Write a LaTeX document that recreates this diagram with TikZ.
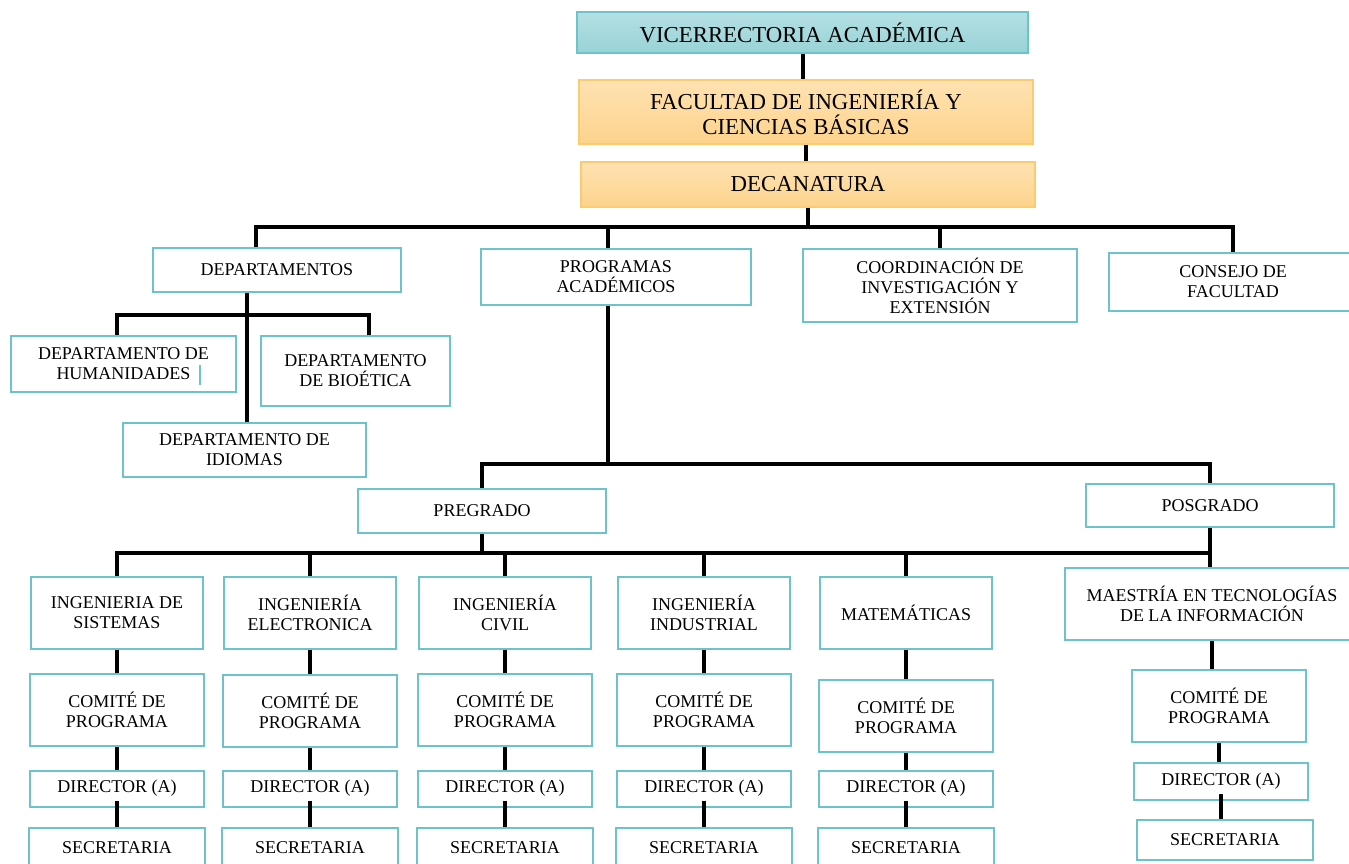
\documentclass[tikz,border=0pt]{standalone}
\usepackage{fontspec}
\setmainfont{Liberation Serif}

\definecolor{bordeazul}{HTML}{6CC4CA}
\definecolor{azularriba}{HTML}{B4E0E3}
\definecolor{azulabajo}{HTML}{98D3D7}
\definecolor{bordenaranja}{HTML}{FBCB6E}
\definecolor{naranjaarriba}{HTML}{FEE2B2}
\definecolor{naranjaabajo}{HTML}{FDD38C}

\begin{document}
\begin{tikzpicture}[
  x=1pt, y=-1pt,
  every node/.style={align=center, inner sep=0pt},
  caja/.style={draw=bordeazul, line width=2pt, fill=white,
               font=\fontsize{18}{20}\selectfont},
  sz/.style 2 args={minimum width=#1, minimum height=#2},
  titulo/.style={line width=1.5pt, font=\fontsize{22.8}{25}\selectfont},
  vicebox/.style={titulo, draw=bordeazul, top color=azularriba, bottom color=azulabajo},
  naranja/.style={titulo, draw=bordenaranja, top color=naranjaarriba, bottom color=naranjaabajo},
  conn/.style={line width=4pt}
]
\useasboundingbox (0,0) rectangle (1349,863);

\node[vicebox, sz={451}{41}] (vic) at (802.5,32.5) {VICERRECTORIA ACADÉMICA};
\node[naranja, sz={454}{64}] (fac) at (806,112) {FACULTAD DE INGENIERÍA Y\\CIENCIAS BÁSICAS};
\node[naranja, sz={454}{45}] (dec) at (808,184.5) {DECANATURA};

\node[caja, sz={248}{44}] (dep) at (277,270) {DEPARTAMENTOS};
\node[caja, sz={270}{56}] (prog) at (616,277) {PROGRAMAS\\ACADÉMICOS};
\node[caja, sz={274}{73}] (coord) at (940,285.5) {COORDINACIÓN DE\\INVESTIGACIÓN Y\\EXTENSIÓN};
\node[caja, sz={248}{58}] (cons) at (1233,282) {CONSEJO DE\\FACULTAD};

\node[caja, sz={225}{56}] (hum) at (123.5,364) {DEPARTAMENTO DE\\HUMANIDADES};
\node[caja, sz={189}{70}] (bio) at (355.5,371) {DEPARTAMENTO\\DE BIOÉTICA};
\node[caja, sz={243}{54}] (idi) at (244.5,450) {DEPARTAMENTO DE\\IDIOMAS};
\draw[bordeazul, line width=1.5pt] (200,365) -- (200,385);

\node[caja, sz={248}{44}] (pre) at (482,511) {PREGRADO};
\node[caja, sz={248}{43}] (pos) at (1210,505.5) {POSGRADO};

\foreach \i/\x/\yc/\t in {1/117/710/{INGENIERIA DE\\SISTEMAS},
                          2/310/711/{INGENIERÍA\\ELECTRONICA},
                          3/505/710/{INGENIERÍA\\CIVIL},
                          4/704/710/{INGENIERÍA\\INDUSTRIAL},
                          5/906/716/{MATEMÁTICAS}} {
  \node[caja, sz={172}{72}] (s\i) at (\x,613) {\t};
  \node[caja, sz={174}{72}] (c\i) at (\x,\yc) {COMITÉ DE\\PROGRAMA};
  \node[caja, sz={174}{36}] (d\i) at (\x,788.5) {DIRECTOR (A)};
  \node[caja, sz={176}{40}] (r\i) at (\x,848) {SECRETARIA};
}
\node[caja, sz={294}{72}] (s6) at (1212,604) {MAESTRÍA EN TECNOLOGÍAS\\DE LA INFORMACIÓN};
\node[caja, sz={174}{72}] (c6) at (1219,706) {COMITÉ DE\\PROGRAMA};
\node[caja, sz={174}{37}] (d6) at (1221,781.5) {DIRECTOR (A)};
\node[caja, sz={176}{40}] (r6) at (1225,840) {SECRETARIA};

\draw[conn] (vic) -- (vic |- fac.north);
\draw[conn] (fac) -- (fac |- dec.north);
\foreach \n/\dx in {dep/-21, prog/-8, coord/0, cons/0}
  \draw[conn] (dec.south) -- ++(0,19) -| ([xshift=\dx]\n.north);

\draw[conn] ([xshift=-30]dep.south) -- ([xshift=-30]dep.south |- idi.north);
\foreach \n/\dx in {hum/-7, bio/13}
  \draw[conn] ([xshift=-30]dep.south) -- ++(0,22) -| ([xshift=\dx]\n.north);

\foreach \n in {pre, pos}
  \draw[conn] ([xshift=-8]prog.south) -- ++(0,158) -| (\n.north);

\foreach \i in {1,...,5}
  \draw[conn] (pre.south) -- ++(0,19) -| (s\i.north);
\draw[conn] (pre.south) -- ++(0,19) -| (pos.south);
\draw[conn] (pos) -- (pos |- s6.north);

\foreach \i in {1,...,6} {
  \draw[conn] (s\i) -- (s\i |- c\i.north);
  \draw[conn] (c\i) -- (c\i |- d\i.north);
  \draw[conn] ([yshift=7]d\i.south) -- (d\i.south |- r\i.north);
}
\end{tikzpicture}
\end{document}
